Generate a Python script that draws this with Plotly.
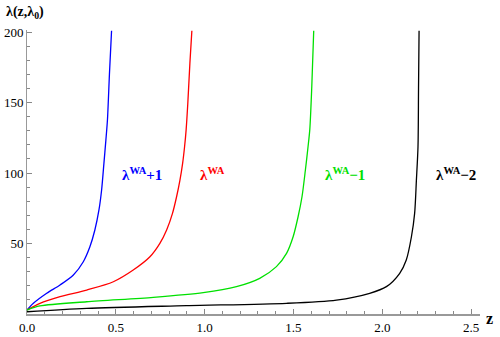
import plotly.graph_objects as go

# data
z_p1 = [0, 0.036, 0.111, 0.186, 0.261, 0.317, 0.354, 0.382, 0.405, 0.42, 0.433, 0.444, 0.453, 0.464, 0.476]
v_p1 = [2.8, 7.6, 14.7, 20.6, 27.7, 37.1, 47.7, 59.6, 73.8, 88, 106.9, 123.4, 138, 170, 201]

z_0 = [0, 0.073, 0.186, 0.336, 0.486, 0.598, 0.692, 0.748, 0.786, 0.819, 0.842, 0.861, 0.876, 0.887, 0.896, 0.905, 0.917, 0.928]
v_0 = [2.8, 7.6, 12.3, 17, 22.9, 31.2, 40.6, 50.1, 59.6, 71.4, 83.2, 95, 106.9, 118.7, 131, 149, 178, 201]

z_m1 = [0, 0.073, 0.336, 0.711, 0.992, 1.179, 1.31, 1.404, 1.461, 1.498, 1.526, 1.548, 1.567, 1.582, 1.592, 1.603, 1.614]
v_m1 = [2.8, 5.7, 8.7, 11.8, 15.1, 19.4, 25.3, 33.6, 43, 54.8, 69, 83.2, 102, 118.7, 131, 161, 201]

z_m2 = [0, 0.336, 0.898, 1.461, 1.742, 1.929, 2.023, 2.098, 2.135, 2.164, 2.182, 2.192, 2.201, 2.204, 2.207]
v_m2 = [1.6, 4, 5.9, 7.6, 9.9, 14.7, 19.4, 28.9, 38.3, 54.8, 71.4, 95, 118.7, 160, 201]

labels = ["<b>λ<sup>WA</sup>+1</b>", "<b>λ<sup>WA</sup></b>", "<b>λ<sup>WA</sup>−1</b>", "<b>λ<sup>WA</sup>−2</b>"]
colors = ["#0000ff", "#ff0000", "#00e000", "#000000"]
label_z = [0.648, 1.046, 1.79, 2.416]
label_v = 99

serif = "Liberation Serif, DejaVu Serif, Times New Roman, serif"
fig = go.Figure()
for zs, vs, col, lab, lx in zip([z_p1, z_0, z_m1, z_m2], [v_p1, v_0, v_m1, v_m2], colors, labels, label_z):
    fig.add_trace(go.Scatter(x=zs, y=vs, mode="lines",
                             line=dict(color=col, width=1.3, shape="spline", smoothing=0.8),
                             showlegend=False, hoverinfo="skip"))
    fig.add_annotation(x=lx, y=label_v, xref="x", yref="y", text=lab, showarrow=False,
                       font=dict(family=serif, size=15, color=col))

axcommon = dict(showgrid=False, zeroline=False, showline=True, linecolor="#999999",
                ticks="inside", ticklen=5, tickcolor="#888888", automargin=False,
                tickfont=dict(family=serif, size=13, color="black"))
fig.update_xaxes(range=[0, 2.55], tickvals=[0, 0.5, 1.0, 1.5, 2.0, 2.5],
                 ticktext=["0.0", "0.5", "1.0", "1.5", "2.0", "2.5"],
                 minor=dict(dtick=0.1, ticks="inside", ticklen=3, tickcolor="#888888"),
                 linewidth=2, **axcommon)
fig.update_yaxes(range=[0, 201.5], tickvals=[50, 100, 150, 200],
                 minor=dict(dtick=10, ticks="inside", ticklen=3, tickcolor="#888888"),
                 linewidth=1, **axcommon)

L, R, T, B = 27, 20, 30, 23
PW, PH = 500 - L - R, 337 - T - B
fig.add_annotation(x=(4 - L) / PW, y=1 + (T - 12) / PH, xref="paper", yref="paper", xanchor="left",
                   yanchor="middle", text="<b>λ(z,λ<sub>0</sub>)</b>", showarrow=False,
                   font=dict(family=serif, size=14, color="black"))
fig.add_annotation(x=(490 - L) / PW, y=1 - (318 - T) / PH, xref="paper", yref="paper", xanchor="center",
                   yanchor="middle", text="<b>z</b>", showarrow=False,
                   font=dict(family=serif, size=16, color="black"))

fig.update_layout(width=500, height=337, margin=dict(l=L, r=R, t=T, b=B),
                  plot_bgcolor="white", paper_bgcolor="white", font=dict(family=serif))
fig.write_html("out.html", config={"displayModeBar": False},
               post_script="document.body.style.margin='0';")
